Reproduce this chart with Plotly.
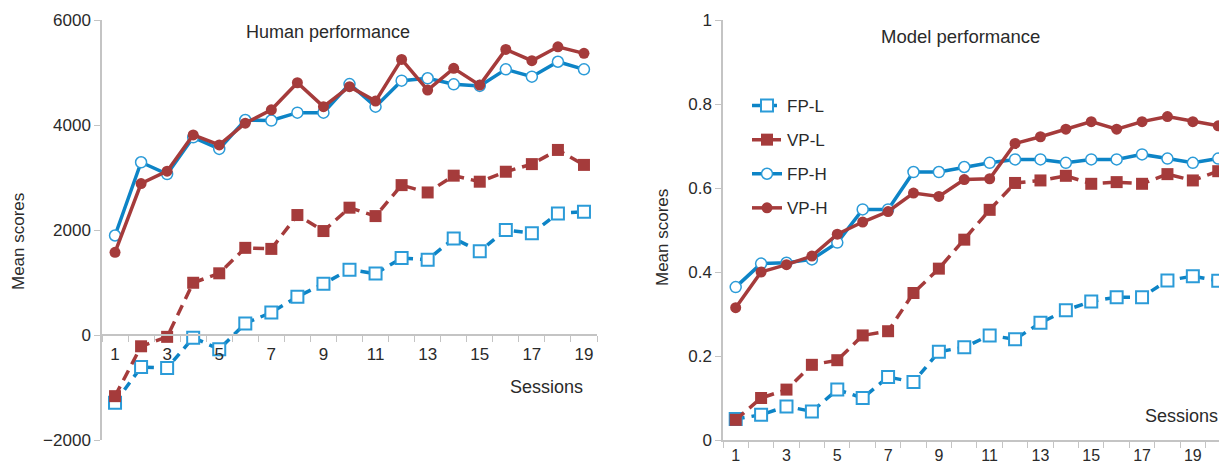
import plotly.graph_objects as go

# ---------------- data ----------------
sessions_human = list(range(1, 20))
human_fp_l = [-1290, -610, -630, -50, -270, 220, 430, 730, 975, 1245, 1170, 1465, 1435, 1840, 1595, 2000, 1940, 2315, 2350]
human_vp_l = [-1165, -215, -35, 995, 1175, 1660, 1640, 2285, 1980, 2425, 2265, 2855, 2715, 3035, 2920, 3110, 3255, 3525, 3240]
human_fp_h = [1895, 3290, 3065, 3765, 3545, 4095, 4085, 4235, 4235, 4780, 4350, 4845, 4890, 4775, 4745, 5060, 4920, 5205, 5060]
human_vp_h = [1575, 2885, 3120, 3810, 3620, 4035, 4290, 4805, 4350, 4730, 4455, 5250, 4665, 5080, 4760, 5440, 5225, 5490, 5365]

sessions_model = list(range(1, 21))
model_fp_l = [0.05, 0.06, 0.08, 0.068, 0.12, 0.10, 0.15, 0.138, 0.21, 0.221, 0.249, 0.24, 0.279, 0.309, 0.33, 0.34, 0.34, 0.38, 0.39, 0.379]
model_vp_l = [0.048, 0.10, 0.12, 0.179, 0.19, 0.249, 0.259, 0.35, 0.408, 0.477, 0.548, 0.612, 0.618, 0.629, 0.61, 0.614, 0.61, 0.633, 0.618, 0.64]
model_fp_h = [0.364, 0.42, 0.422, 0.43, 0.47, 0.549, 0.549, 0.638, 0.638, 0.65, 0.66, 0.668, 0.668, 0.66, 0.668, 0.668, 0.68, 0.67, 0.66, 0.67]
model_vp_h = [0.315, 0.40, 0.4175, 0.438, 0.49, 0.519, 0.544, 0.588, 0.58, 0.62, 0.622, 0.706, 0.722, 0.74, 0.758, 0.74, 0.758, 0.77, 0.758, 0.748]

series_names = ["FP-L", "VP-L", "FP-H", "VP-H"]
x_tick_labels = [1, 3, 5, 7, 9, 11, 13, 15, 17, 19]
human_y_ticks = [-2000, 0, 2000, 4000, 6000]
model_y_ticks = [0, 0.2, 0.4, 0.6, 0.8, 1]

# ---------------- styles ----------------
BLUE = "#0d84c6"
BLUE_EDGE = "#2b9bd8"
RED = "#a53b3b"
AXIS = "#c4c4c4"
TXT = "#2a2a2a"
FONT = "Liberation Sans, Arial, sans-serif"

styles = {
    "FP-L": dict(line=dict(color=BLUE, width=3.5, dash="9px,7px"),
                 marker=dict(symbol="square", size=12, color="white", line=dict(color=BLUE_EDGE, width=2))),
    "VP-L": dict(line=dict(color=RED, width=3.5, dash="11px,7px"),
                 marker=dict(symbol="square", size=12, color=RED, line=dict(color=RED, width=0))),
    "FP-H": dict(line=dict(color=BLUE, width=3.5),
                 marker=dict(symbol="circle", size=11, color="white", line=dict(color=BLUE_EDGE, width=1.5))),
    "VP-H": dict(line=dict(color=RED, width=3.5),
                 marker=dict(symbol="circle", size=11, color=RED, line=dict(color=RED, width=0))),
}

human = {"FP-L": human_fp_l, "VP-L": human_vp_l, "FP-H": human_fp_h, "VP-H": human_vp_h}
model = {"FP-L": model_fp_l, "VP-L": model_vp_l, "FP-H": model_fp_h, "VP-H": model_vp_h}

fig = go.Figure()
draw_order = ["FP-L", "VP-L", "FP-H", "VP-H"]
for name in draw_order:
    fig.add_trace(go.Scatter(x=sessions_human, y=human[name], mode="lines+markers", name=name,
                             showlegend=False, xaxis="x", yaxis="y", cliponaxis=False, **styles[name]))
for name in draw_order:
    fig.add_trace(go.Scatter(x=sessions_model, y=model[name], mode="lines+markers", name=name,
                             legendgroup=name, showlegend=True, xaxis="x2", yaxis="y2", **styles[name]))

W, H = 1219, 467
T, B = 20, 27
PH = H - T - B


def px_x(p):
    return p / W


def px_y(p):
    return (H - B - p) / PH


def x_axis_style(ticklen, size):
    return dict(
        tickmode="array", tickvals=x_tick_labels, ticktext=[str(v) for v in x_tick_labels],
        ticks="outside", ticklen=ticklen, tickcolor="rgba(0,0,0,0)",
        minor=dict(tickmode="linear", tick0=0.5, dtick=1, ticks="outside", ticklen=6,
                   tickcolor=AXIS, tickwidth=1),
        showline=True, linecolor=AXIS, linewidth=1.5, showgrid=False, zeroline=False,
        automargin=False, tickfont=dict(family=FONT, size=size, color=TXT),
    )


common_y = dict(
    ticks="outside", ticklen=6, tickcolor=AXIS, tickwidth=1, automargin=False,
    showline=True, linecolor=AXIS, linewidth=1.5, showgrid=False, zeroline=False,
    tickfont=dict(family=FONT, size=17, color=TXT),
)


def label(text, x, y, size=17, xanchor="center", angle=0):
    return dict(text=text, x=px_x(x), y=px_y(y), xref="paper", yref="paper",
                xanchor=xanchor, yanchor="middle", textangle=angle, showarrow=False,
                font=dict(family=FONT, size=size, color=TXT))


fig.update_layout(
    width=W, height=H,
    margin=dict(l=0, r=0, t=T, b=B, autoexpand=False),
    paper_bgcolor="white", plot_bgcolor="white",
    font=dict(family=FONT, color=TXT),
    xaxis=dict(domain=[px_x(102), px_x(597)], range=[0.5, 19.5], anchor="free",
               position=px_y(335), **x_axis_style(4, 17)),
    yaxis=dict(domain=[0, 1], range=[-2000, 6000], tickmode="array", tickvals=human_y_ticks,
               anchor="x", **common_y),
    xaxis2=dict(domain=[px_x(723), 1.0], range=[0.5, 20.03], anchor="y2", **x_axis_style(0, 16)),
    yaxis2=dict(domain=[0, 1], range=[0, 1], tickmode="array", tickvals=model_y_ticks,
                ticktext=["0", "0.2", "0.4", "0.6", "0.8", "1"], anchor="x2", **common_y),
    showlegend=True,
    legend=dict(x=px_x(747), y=px_y(88), xanchor="left", yanchor="top",
                bgcolor="rgba(0,0,0,0)", font=dict(family=FONT, size=17, color=TXT),
                tracegroupgap=9, itemwidth=30),
    annotations=[
        label("Human performance", 328, 32, size=18),
        label("Model performance", 960, 37, size=18.5),
        label("Mean scores", 18, 242, angle=-90),
        label("Mean scores", 663, 238, angle=-90),
        label("Sessions", 585, 387, size=18, xanchor="right"),
        label("Sessions", 1143, 416, size=18, xanchor="left"),
    ],
)

fig.write_html("out.html", config={"displayModeBar": False},
               post_script="document.body.style.margin='0';")
